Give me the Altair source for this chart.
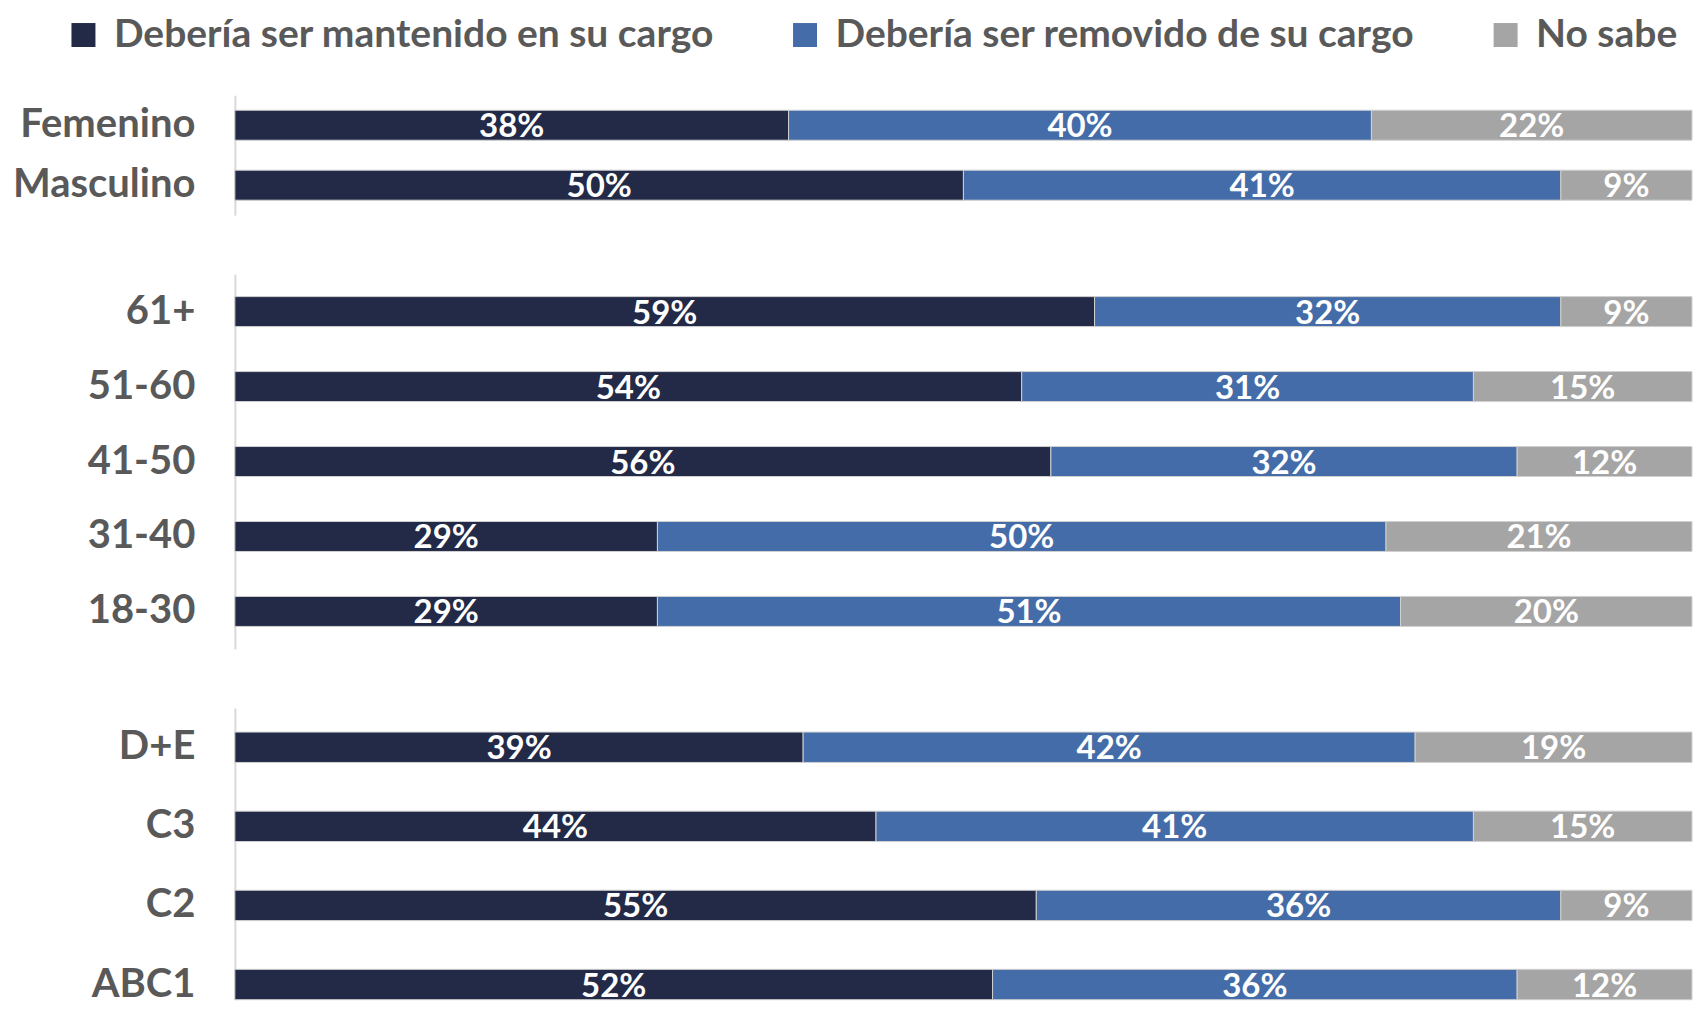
import altair as alt
import pandas as pd

series = ["Debería ser mantenido en su cargo", "Debería ser removido de su cargo", "No sabe"]
colors = ["#232A47", "#446CA8", "#A5A5A5"]

gender_cats = ["Femenino", "Masculino"]
gender_keep = [38, 50]
gender_remove = [40, 41]
gender_dk = [22, 9]

age_cats = ["61+", "51-60", "41-50", "31-40", "18-30"]
age_keep = [59, 54, 56, 29, 29]
age_remove = [32, 31, 32, 50, 51]
age_dk = [9, 15, 12, 21, 20]

ses_cats = ["D+E", "C3", "C2", "ABC1"]
ses_keep = [39, 44, 55, 52]
ses_remove = [42, 41, 36, 36]
ses_dk = [19, 15, 9, 12]

FONT = "Lato"
PLOT_W = 1458


def make_df(cats, keep, remove, dk):
    rows = []
    for i, c in enumerate(cats):
        for j, (s, v) in enumerate(zip(series, (keep[i], remove[i], dk[i]))):
            rows.append({"cat": c, "serie": s, "order": j, "value": v, "label": f"{v}%"})
    return pd.DataFrame(rows)


def panel(cats, keep, remove, dk, height, pi, po, align=0.5):
    df = make_df(cats, keep, remove, dk)
    base = (
        alt.Chart(df)
        .transform_stack(stack="value", groupby=["cat"], sort=[alt.SortField("order")], as_=["x0", "x1"])
        .transform_calculate(mid="(datum.x0 + datum.x1) / 2")
    )
    yscale = alt.Scale(paddingInner=pi, paddingOuter=po, align=align)
    yaxis = alt.Axis(
        domain=True, domainColor="#D9D9D9", domainWidth=2, ticks=False, grid=False,
        labelFont=FONT, labelFontSize=40, labelFontWeight="bold", labelColor="#595959",
        labelPadding=40, labelLimit=0,
    )
    xscale = alt.Scale(domain=[0, 100], nice=False, zero=True)
    bars = base.mark_bar(stroke="#D0D0D0", strokeWidth=1).encode(
        x=alt.X("x0:Q", scale=xscale, axis=None),
        x2="x1:Q",
        y=alt.Y("cat:N", sort=cats, title=None, scale=yscale, axis=yaxis),
        color=alt.Color(
            "serie:N",
            scale=alt.Scale(domain=series, range=colors),
            sort=series,
            legend=alt.Legend(title=None),
        ),
    )
    text = base.mark_text(
        font=FONT, fontSize=33, fontWeight="bold", color="white", baseline="middle", dy=2
    ).encode(
        x=alt.X("mid:Q", scale=xscale, axis=None),
        y=alt.Y("cat:N", sort=cats, title=None, scale=yscale, axis=yaxis),
        text="label:N",
    )
    return alt.layer(bars, text).properties(width=PLOT_W, height=height)


p1 = panel(gender_cats, gender_keep, gender_remove, gender_dk, 120, 0.5, 0.25)
p2 = panel(age_cats, age_keep, age_remove, age_dk, 375, 0.6, 0.3)
p3 = panel(ses_cats, ses_keep, ses_remove, ses_dk, 292, 0.616, 0.153, 1.0)

chart = (
    alt.vconcat(p1, p2, p3, spacing=59)
    .properties(padding={"left": 4, "top": 7, "right": 0, "bottom": 0}, background="white")
    .configure_view(stroke=None)
    .configure_legend(
        orient="none",
        legendX=-171,
        legendY=-80,
        direction="horizontal",
        symbolType="square",
        symbolSize=576,
        symbolStrokeWidth=0,
        labelFont=FONT,
        labelFontSize=39,
        labelFontWeight="bold",
        labelColor="#595959",
        labelOffset=11,
        labelLimit=0,
        columnPadding=71,
    )
)

chart.save("out.html", embed_options={"renderer": "svg", "actions": False})
